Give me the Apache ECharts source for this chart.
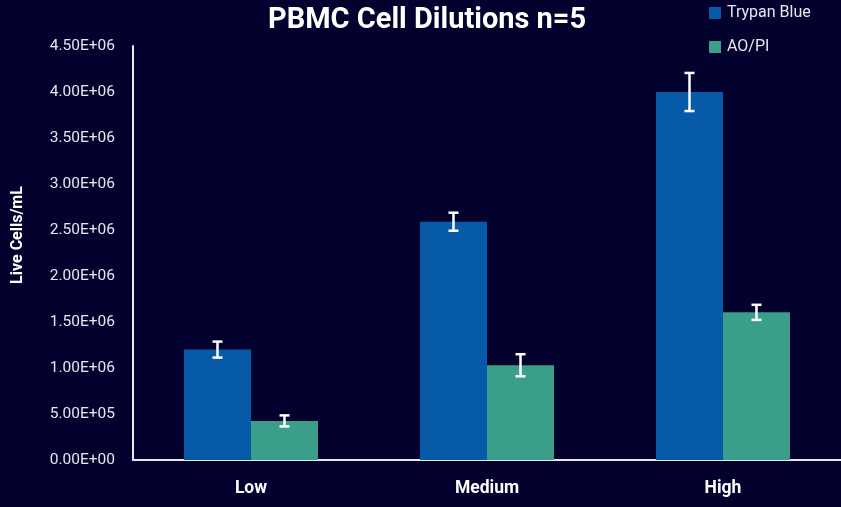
<!DOCTYPE html>
<html>
<head>
<meta charset="utf-8">
<script src="https://cdn.jsdelivr.net/npm/echarts@6/dist/echarts.min.js"></script>
<style>
html,body{margin:0;padding:0;background:#03022e;}
#chart{width:841px;height:507px;}
</style>
</head>
<body>
<div id="chart"></div>
<script>
var categories = ['Low', 'Medium', 'High'];
var trypanBlue = [1.20e6, 2.59e6, 4.00e6];
var trypanBlueErr = [0.087e6, 0.098e6, 0.207e6];
var aopi = [0.425e6, 1.03e6, 1.605e6];
var aopiErr = [0.06e6, 0.12e6, 0.082e6];
var seriesNames = ['Trypan Blue', 'AO/PI'];

var BAR_W = 67;

function fmtSci(v) {
  if (v === 0) return '0.00E+00';
  var s = v.toExponential(2).toUpperCase();
  var parts = s.split('E');
  var sign = parts[1][0];
  var exp = parts[1].slice(1);
  if (exp.length < 2) exp = '0' + exp;
  return parts[0] + 'E' + sign + exp;
}

function errData(vals, errs) {
  return vals.map(function (v, i) { return [i, v - errs[i], v + errs[i]]; });
}

function errSeries(vals, errs, offsetSign) {
  return {
    type: 'custom',
    silent: true,
    z: 10,
    data: errData(vals, errs),
    renderItem: function (params, api) {
      var lo = api.coord([api.value(0), api.value(1)]);
      var hi = api.coord([api.value(0), api.value(2)]);
      var x = lo[0] + offsetSign * BAR_W / 2;
      var cap = 5;
      var style = { stroke: '#ffffff', lineWidth: 2.5 };
      return {
        type: 'group',
        children: [
          { type: 'line', shape: { x1: x, y1: lo[1], x2: x, y2: hi[1] }, style: style },
          { type: 'line', shape: { x1: x - cap, y1: lo[1], x2: x + cap, y2: lo[1] }, style: style },
          { type: 'line', shape: { x1: x - cap, y1: hi[1], x2: x + cap, y2: hi[1] }, style: style }
        ]
      };
    }
  };
}

var chart = echarts.init(document.getElementById('chart'));
chart.setOption({
  backgroundColor: '#03022e',
  animation: false,
  title: {
    text: 'PBMC Cell Dilutions n=5',
    left: 263,
    top: 1,
    textStyle: { color: '#ffffff', fontFamily: 'Roboto', fontWeight: 'bold', fontSize: 29 }
  },
  legend: {
    orient: 'vertical',
    left: 704,
    top: 0,
    itemWidth: 12,
    itemHeight: 12,
    itemGap: 18,
    icon: 'rect',
    data: seriesNames,
    textStyle: { color: '#e6e6ee', fontFamily: 'Roboto', fontSize: 16, padding: [0, 0, 0, 1] }
  },
  grid: { left: 133, top: 46, width: 713, bottom: 47, containLabel: false },
  xAxis: {
    type: 'category',
    data: categories,
    axisLine: { lineStyle: { color: '#e8e8ee', width: 2 } },
    axisTick: { show: false },
    axisLabel: { color: '#ffffff', fontFamily: 'Roboto', fontWeight: 'bold', fontSize: 17.5, margin: 20 }
  },
  yAxis: {
    type: 'value',
    min: 0,
    max: 4.5e6,
    interval: 5e5,
    axisLine: { show: true, lineStyle: { color: '#e8e8ee', width: 2 } },
    axisTick: { show: false },
    splitLine: { show: false },
    axisLabel: { color: '#e6e6ee', fontFamily: 'Roboto', fontSize: 15.5, margin: 18, formatter: fmtSci }
  },
  graphic: [{
    type: 'text',
    x: 18,
    y: 235,
    rotation: Math.PI / 2,
    style: {
      text: 'Live Cells/mL',
      fill: '#ffffff',
      font: 'bold 16px Roboto',
      textAlign: 'center',
      textVerticalAlign: 'middle'
    }
  }],
  series: [
    {
      name: seriesNames[0], type: 'bar', data: trypanBlue,
      barWidth: BAR_W, barGap: '0%',
      itemStyle: { color: '#065aa8' }
    },
    {
      name: seriesNames[1], type: 'bar', data: aopi,
      barWidth: BAR_W, barGap: '0%',
      itemStyle: { color: '#3a9e8b' }
    },
    errSeries(trypanBlue, trypanBlueErr, -1),
    errSeries(aopi, aopiErr, 1)
  ]
});
</script>
</body>
</html>
